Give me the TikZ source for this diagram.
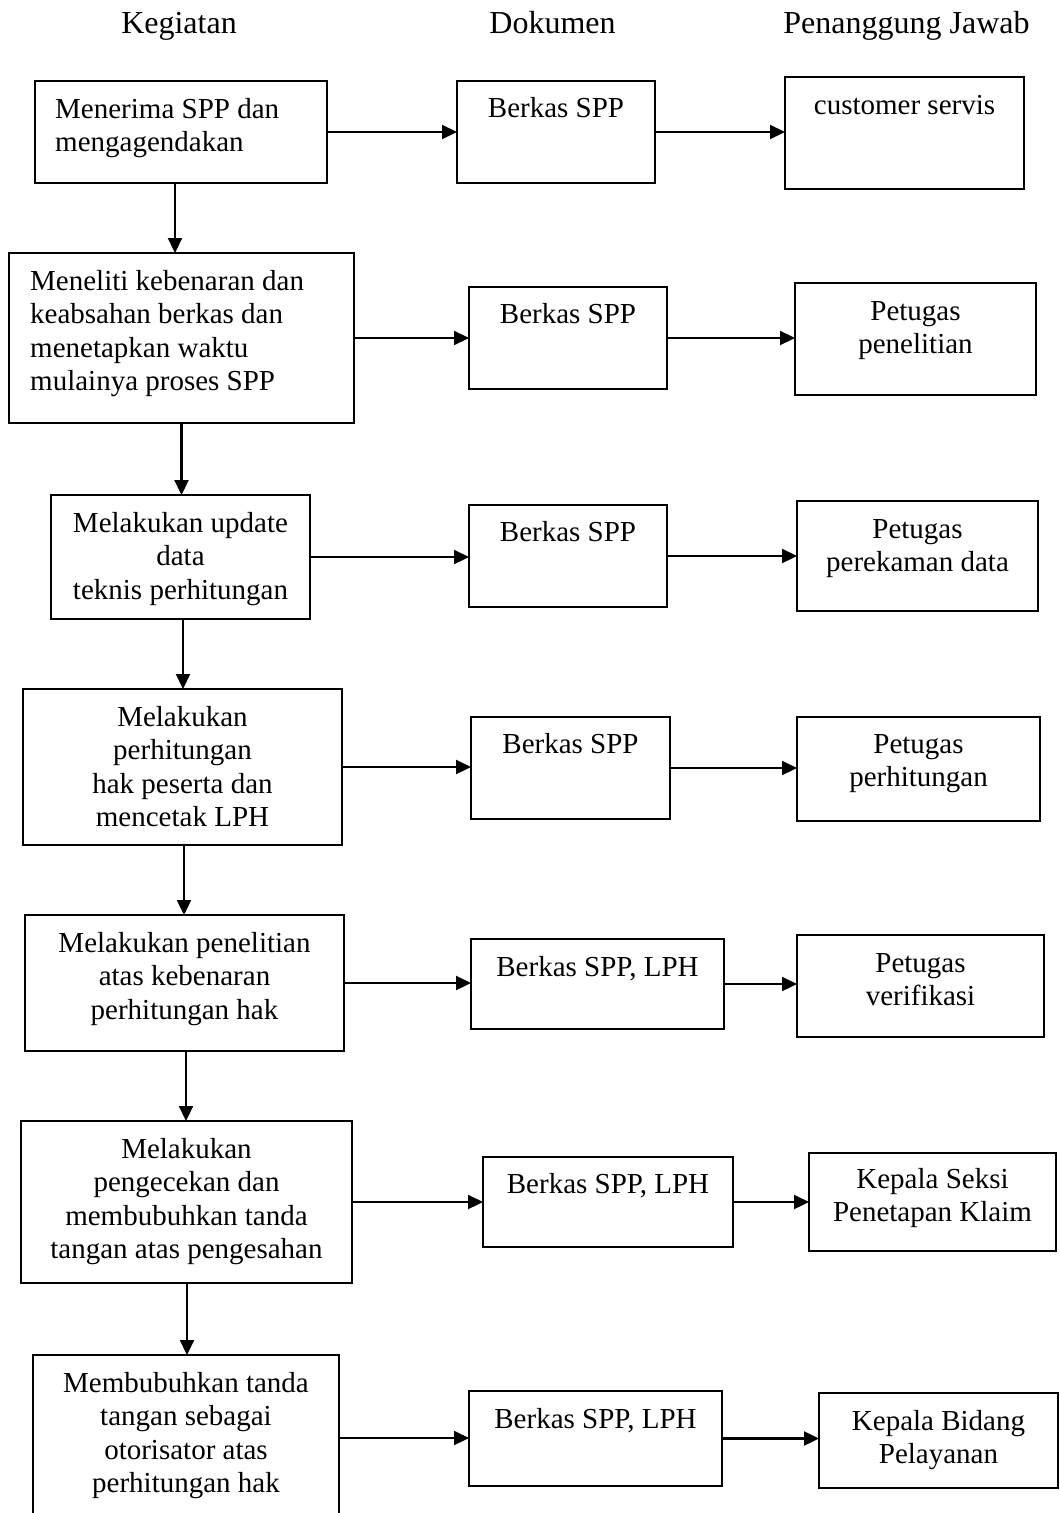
\documentclass[tikz,border=0pt]{standalone}
\usepackage{fontspec}
\setmainfont{Liberation Serif}
\usetikzlibrary{arrows.meta}
\begin{document}
\begin{tikzpicture}[x=1pt,y=1pt,
  box/.style={draw, line width=1.5pt, rectangle, inner sep=0pt, outer sep=0pt},
  txt/.style={font=\fontsize{29}{33.5}\selectfont, inner sep=0pt, align=center, anchor=base},
  ltxt/.style={font=\fontsize{29}{33.5}\selectfont, inner sep=0pt, align=left, anchor=base west},
  head/.style={font=\fontsize{32}{36}\selectfont, inner sep=0pt, anchor=base},
  arr/.style={line width=2.2pt, -{Triangle[length=15pt,width=14pt]}}]
\useasboundingbox (0,0) rectangle (1060,-1513);
\begin{scope}
\clip (0,0) rectangle (1060,-1513);
% headers
\node[head] (h1) at (179,-33) {Kegiatan};
\node[head] (h2) at (552.5,-33) {Dokumen};
\node[head] (h3) at (906.5,-33) {Penanggung Jawab};
% activity boxes
\node[box, minimum width=292pt, minimum height=102pt] (b1) at (181,-132) {};
\node[box, minimum width=345pt, minimum height=170pt] (b2) at (181.5,-338) {};
\node[box, minimum width=259pt, minimum height=124pt] (b3) at (180.5,-557) {};
\node[box, minimum width=319pt, minimum height=156pt] (b4) at (182.5,-767) {};
\node[box, minimum width=319pt, minimum height=136pt] (b5) at (184.5,-983) {};
\node[box, minimum width=331pt, minimum height=162pt] (b6) at (186.5,-1202) {};
\node[box, minimum width=306pt, minimum height=166pt] (b7) at (186,-1438) {};
% document boxes
\node[box, minimum width=198pt, minimum height=102pt] (d1) at (556,-132) {};
\node[box, minimum width=198pt, minimum height=102pt] (d2) at (568,-338) {};
\node[box, minimum width=198pt, minimum height=102pt] (d3) at (568,-556) {};
\node[box, minimum width=199pt, minimum height=102pt] (d4) at (570.5,-768) {};
\node[box, minimum width=253pt, minimum height=90pt] (d5) at (597.5,-984) {};
\node[box, minimum width=250pt, minimum height=90pt] (d6) at (608,-1202) {};
\node[box, minimum width=253pt, minimum height=95pt] (d7) at (595.5,-1438.5) {};
% responsible boxes
\node[box, minimum width=239pt, minimum height=112pt] (r1) at (904.5,-133) {};
\node[box, minimum width=241pt, minimum height=112pt] (r2) at (915.5,-339) {};
\node[box, minimum width=241pt, minimum height=110pt] (r3) at (917.5,-556) {};
\node[box, minimum width=243pt, minimum height=104pt] (r4) at (918.5,-769) {};
\node[box, minimum width=247pt, minimum height=102pt] (r5) at (920.5,-986) {};
\node[box, minimum width=247pt, minimum height=98pt] (r6) at (932.5,-1202) {};
\node[box, minimum width=239pt, minimum height=95pt] (r7) at (938.5,-1440.5) {};
% texts (anchored at the baseline of their last line)
\node[ltxt] (t1) at ([xshift=20pt,yshift=-70.5pt]b1.north west) {Menerima SPP dan\\mengagendakan};
\node[ltxt] (t2) at ([xshift=21pt,yshift=-137.5pt]b2.north west) {Meneliti kebenaran dan\\keabsahan berkas dan\\menetapkan waktu\\mulainya proses SPP};
\node[txt] (t3) at ([yshift=-104pt]b3.north) {Melakukan update\\data\\teknis perhitungan};
\node[txt] (t4) at ([yshift=-137.5pt]b4.north) {Melakukan\\perhitungan\\hak peserta dan\\mencetak LPH};
\node[txt] (t5) at ([yshift=-104pt]b5.north) {Melakukan penelitian\\atas kebenaran\\perhitungan hak};
\node[txt] (t6) at ([yshift=-137.5pt]b6.north) {Melakukan\\pengecekan dan\\membubuhkan tanda\\tangan atas pengesahan};
\node[txt] (t7) at ([yshift=-137.5pt]b7.north) {Membubuhkan tanda\\tangan sebagai\\otorisator atas\\perhitungan hak};
\node[txt] (u1) at ([yshift=-36pt]d1.north) {Berkas SPP};
\node[txt] (u2) at ([yshift=-36pt]d2.north) {Berkas SPP};
\node[txt] (u3) at ([yshift=-36pt]d3.north) {Berkas SPP};
\node[txt] (u4) at ([yshift=-36pt]d4.north) {Berkas SPP};
\node[txt] (u5) at ([yshift=-37pt]d5.north) {Berkas SPP, LPH};
\node[txt] (u6) at ([yshift=-36pt]d6.north) {Berkas SPP, LPH};
\node[txt] (u7) at ([yshift=-37pt]d7.north) {Berkas SPP, LPH};
\node[txt] (v1) at ([yshift=-37pt]r1.north) {customer servis};
\node[txt] (v2) at ([yshift=-70.5pt]r2.north) {Petugas\\penelitian};
\node[txt] (v3) at ([yshift=-70.5pt]r3.north) {Petugas\\perekaman data};
\node[txt] (v4) at ([yshift=-69.5pt]r4.north) {Petugas\\perhitungan};
\node[txt] (v5) at ([yshift=-70.5pt]r5.north) {Petugas\\verifikasi};
\node[txt] (v6) at ([yshift=-68.5pt]r6.north) {Kepala Seksi\\Penetapan Klaim};
\node[txt] (v7) at ([yshift=-70.5pt]r7.north) {Kepala Bidang\\Pelayanan};
% horizontal arrows
\foreach \i in {1,...,7}{
  \draw[arr] (b\i.east) -- (b\i.east -| d\i.west);
  \draw[arr] (d\i.east) -- (d\i.east -| r\i.west);
}
% vertical arrows
\draw[arr] ([xshift=-6pt]b1.south) -- ([xshift=-6pt]b1.south |- b2.north);
\draw[arr] (b2.south) -- (b2.south |- b3.north);
\draw[arr] ([xshift=2.5pt]b3.south) -- ([xshift=2.5pt]b3.south |- b4.north);
\draw[arr] ([xshift=1.5pt]b4.south) -- ([xshift=1.5pt]b4.south |- b5.north);
\draw[arr] ([xshift=1.5pt]b5.south) -- ([xshift=1.5pt]b5.south |- b6.north);
\draw[arr] ([xshift=0.5pt]b6.south) -- ([xshift=0.5pt]b6.south |- b7.north);
\end{scope}
\end{tikzpicture}
\end{document}
